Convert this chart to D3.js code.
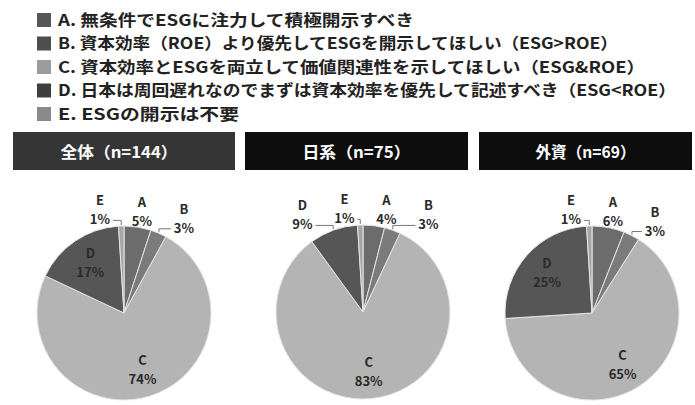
<!DOCTYPE html>
<html><head><meta charset="utf-8">
<script src="https://cdn.jsdelivr.net/npm/d3@7"></script>
<style>body{margin:0;background:#fff}svg{display:block}</style>
</head><body>
<script>
// ---- data ----
const categories = ["A","B","C","D","E"];
const legendLabels = [
  "A. 無条件でESGに注力して積極開示すべき",
  "B. 資本効率（ROE）より優先してESGを開示してほしい（ESG>ROE）",
  "C. 資本効率とESGを両立して価値関連性を示してほしい（ESG&ROE）",
  "D. 日本は周回遅れなのでまずは資本効率を優先して記述すべき（ESG<ROE）",
  "E. ESGの開示は不要"
];
const groupTitles = ["全体（n=144）","日系（n=75）","外資（n=69）"];
const valuesAll = [5,3,74,17,1];
const valuesJP  = [4,3,83,9,1];
const valuesFor = [6,3,65,25,1];
const groups = [valuesAll, valuesJP, valuesFor];

// ---- layout / style ----
const W = 695, H = 405;
const pieColors = ["#6c6c6c","#7b7b7b","#b4b4b4","#565656","#a6a6a6"];
const swatchColors = ["#565656","#4e4e4e","#9c9c9c","#3e3e3e","#8a8a8a"];
const legendTextWidths = [356,560,587,618,181];
const headerBoxes = [[13,235],[245,468],[479,692]];
const headerTextWidths = [117,108,100];
const pieCenters = [[124,313],[363,312],[592,313]];
const R = 87;
const latin = "'Liberation Sans Narrow','Noto Sans CJK JP',sans-serif";

const svg = d3.select("body").append("svg").attr("width",W).attr("height",H);
svg.append("rect").attr("width",W).attr("height",H).attr("fill","#fff");

// legend
const ly = d3.scalePoint().domain(categories).range([20,114]);
const lg = svg.append("g");
categories.forEach((c,i)=>{
  lg.append("rect").attr("x",37).attr("y",ly(c)-7).attr("width",14).attr("height",14)
    .attr("fill",swatchColors[i]);
  lg.append("text").attr("x",58).attr("y",ly(c)).attr("dy","0.36em")
    .attr("font-family",latin).attr("font-weight","bold").attr("font-size",16)
    .attr("fill","#222")
    .attr("textLength",legendTextWidths[i]).attr("lengthAdjust","spacingAndGlyphs")
    .text(legendLabels[i]);
});

// headers
groupTitles.forEach((t,i)=>{
  const [x0,x1] = headerBoxes[i];
  svg.append("rect").attr("x",x0).attr("y",132).attr("width",x1-x0).attr("height",38)
    .attr("fill", i===0 ? "#353535" : "#0d0d0d");
  svg.append("text").attr("x",(x0+x1)/2 - (i===0?5:0)).attr("y",152).attr("dy","0.35em")
    .attr("text-anchor","middle").attr("fill","#fff")
    .attr("font-family",latin).attr("font-weight","bold").attr("font-size",16)
    .attr("textLength",headerTextWidths[i]).attr("lengthAdjust","spacingAndGlyphs")
    .text(t);
});

// pies
const pie = d3.pie().sort(null).value(d=>d.v);
const arc = d3.arc().innerRadius(0).outerRadius(R);
const inArc = d3.arc().innerRadius(R*0.69).outerRadius(R*0.69);
const outArc = d3.arc().innerRadius(R*1.18).outerRadius(R*1.18);
const edgeArc = d3.arc().innerRadius(R+1).outerRadius(R+1);

groups.forEach((vals,gi)=>{
  const [cx,cy] = pieCenters[gi];
  const g = svg.append("g").attr("transform",`translate(${cx},${cy})`);
  const data = pie(categories.map((c,i)=>({c,v:vals[i],i})));
  g.selectAll("path").data(data).join("path")
    .attr("d",arc).attr("fill",d=>pieColors[d.data.i])
    .attr("stroke","#e4e4e4").attr("stroke-width",1);

  // labels
  const labels = data.map(d=>{
    const outside = d.data.v < 10;
    const p = (outside?outArc:inArc).centroid(d);
    return {d, outside, x:p[0], y:p[1], e:edgeArc.centroid(d)};
  });
  // spread outside labels horizontally
  const outs = labels.filter(l=>l.outside).sort((a,b)=>a.x-b.x);
  const gap = 42;
  for(let it=0; it<60; it++){
    for(let k=1;k<outs.length;k++){
      const o = gap-(outs[k].x-outs[k-1].x);
      if(o>0){ outs[k].x += o/2; outs[k-1].x -= o/2; }
    }
  }
  labels.forEach(l=>{
    [l.d.data.c, l.d.data.v+"%"].forEach((s,k)=>{
      g.append("text").attr("text-anchor","middle")
        .attr("x",l.x).attr("y",l.y + (k===0?-9.5:9.5)).attr("dy","0.35em")
        .attr("font-family",latin).attr("font-weight","bold").attr("font-size",13)
        .attr("fill","#2a2a2a").text(s);
    });
    if(l.outside && Math.abs(l.x-l.e[0])>15){
      const s = Math.sign(l.e[0]-l.x);
      const x0 = l.x + s*13, y0 = l.y+10;
      g.append("polyline")
        .attr("points",`${x0},${y0} ${l.e[0]},${Math.min(y0,l.e[1])} ${l.e[0]},${l.e[1]}`)
        .attr("fill","none").attr("stroke","#777").attr("stroke-width",1);
    }
  });
});
</script>
</body></html>
